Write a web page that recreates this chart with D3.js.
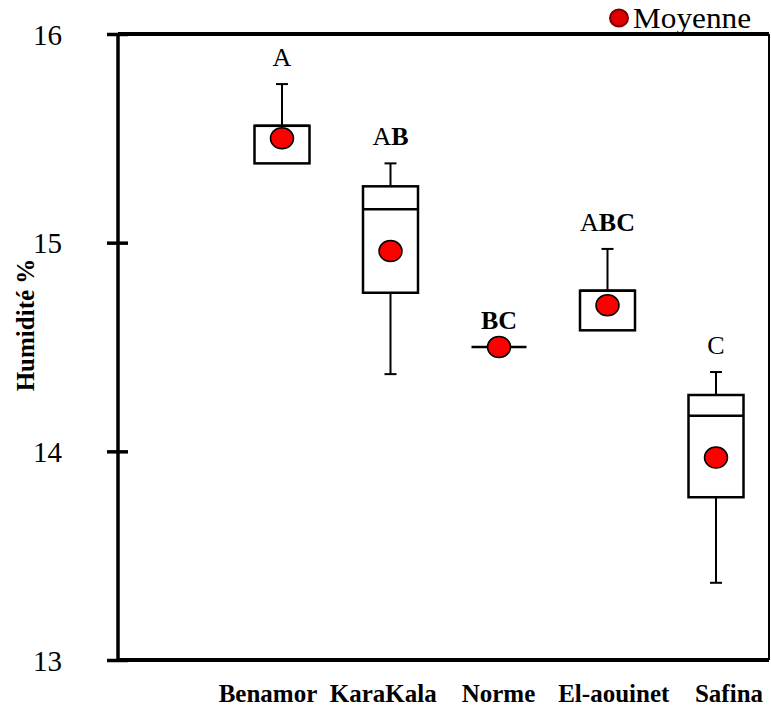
<!DOCTYPE html>
<html>
<head>
<meta charset="utf-8">
<script src="https://cdn.jsdelivr.net/npm/d3@7"></script>
<style>
  body { margin: 0; background: #fff; }
  svg text { font-family: 'Liberation Serif', 'Times New Roman', Times, serif !important; }
</style>
</head>
<body>
<div class="chart"></div>
<script>
// data
const sites = ["Benamor", "KaraKala", "Norme", "El-aouinet", "Safina"]
const mins = [15.38, 14.37, 14.5, 14.58, 13.37]
const q1s = [15.38, 14.76, 14.5, 14.58, 13.78]
const medians = [15.56, 15.16, 14.5, 14.77, 14.17]
const q3s = [15.56, 15.27, 14.5, 14.77, 14.27]
const maxs = [15.76, 15.38, 14.5, 14.97, 14.38]
const means = [15.5, 14.96, 14.5, 14.7, 13.97]
const groups = ["A", "AB", "BC", "ABC", "C"]
const yTicks = [13, 14, 15, 16]

const data = sites.map((s, i) => ({
  site: s, min: mins[i], q1: q1s[i], med: medians[i], q3: q3s[i],
  max: maxs[i], mean: means[i], grp: groups[i]
}))

const margin = ({top: 34, right: 2, bottom: 48, left: 118})
const W = 771, H = 708
const width = W - margin.left - margin.right,
  height = H - margin.top - margin.bottom

const svg = d3.select(".chart").append("svg")
  .attr("width", W)
  .attr("height", H)
  .attr("font-family", "'Liberation Serif', serif")

const g = svg.append("g")
  .attr("transform", "translate(" + margin.left + "," + margin.top + ")")

const x = d3.scalePoint()
  .domain(sites)
  .range([164, width - 53])

// category names sit a bit more spread out than the boxes
const xLab = d3.scalePoint()
  .domain(sites)
  .range([150, width - 40])

const y = d3.scaleLinear()
  .domain([13, 16])
  .range([height, 0])

// frame: top, right, bottom
g.append("line").attr("x1", 0).attr("x2", width).attr("y1", 0).attr("y2", 0)
  .attr("stroke", "black").attr("stroke-width", 4)
g.append("line").attr("x1", width).attr("x2", width).attr("y1", 0).attr("y2", height)
  .attr("stroke", "black").attr("stroke-width", 2)
g.append("line").attr("x1", 0).attr("x2", width).attr("y1", height).attr("y2", height)
  .attr("stroke", "black").attr("stroke-width", 4)

const yAxis = d3.axisLeft(y)
  .tickValues(yTicks)
  .tickSize(11)
  .tickPadding(45)
  .tickFormat(d3.format("d"))

const yAxisGroup = g.append("g")
  .attr("class", "axis y-axis")
  .call(yAxis)
  .attr("font-family", null)

yAxisGroup.select(".domain")
  .attr("stroke-width", 3.5)
  .attr("d", "M0," + y(16) + "V" + y(13))

yAxisGroup.selectAll(".tick line")
  .attr("stroke-width", 3.5)
  .clone()
  .attr("x2", 10)

yAxisGroup.selectAll(".tick text")
  .attr("font-size", 29)
  .attr("fill", "black")
  .attr("dy", "0.35em")

// y title
svg.append("text")
  .attr("transform", "translate(34,325) rotate(-90)")
  .attr("text-anchor", "middle")
  .attr("font-size", 25)
  .attr("font-weight", "bold")
  .text("Humidité %")

// x labels
g.selectAll(".xlab")
  .data(sites)
  .enter()
  .append("text")
  .attr("class", "xlab")
  .attr("x", d => xLab(d))
  .attr("y", height + 42)
  .attr("text-anchor", "middle")
  .attr("font-size", 25)
  .attr("font-weight", "bold")
  .text(d => d)

const boxW = 55, capW = 12

const box = g.append("g")
  .selectAll("g")
  .data(data)
  .enter()
  .append("g")

// whiskers
box.append("line")
  .attr("x1", d => x(d.site)).attr("x2", d => x(d.site))
  .attr("y1", d => y(d.q3)).attr("y2", d => y(d.max))
  .attr("stroke", "black").attr("stroke-width", 2)
box.append("line")
  .attr("x1", d => x(d.site)).attr("x2", d => x(d.site))
  .attr("y1", d => y(d.q1)).attr("y2", d => y(d.min))
  .attr("stroke", "black").attr("stroke-width", 2)

// caps
box.filter(d => d.max > d.q3).append("line")
  .attr("x1", d => x(d.site) - capW / 2).attr("x2", d => x(d.site) + capW / 2)
  .attr("y1", d => y(d.max)).attr("y2", d => y(d.max))
  .attr("stroke", "black").attr("stroke-width", 2)
box.filter(d => d.min < d.q1).append("line")
  .attr("x1", d => x(d.site) - capW / 2).attr("x2", d => x(d.site) + capW / 2)
  .attr("y1", d => y(d.min)).attr("y2", d => y(d.min))
  .attr("stroke", "black").attr("stroke-width", 2)

// boxes
box.append("rect")
  .attr("x", d => x(d.site) - boxW / 2)
  .attr("y", d => y(d.q3))
  .attr("width", boxW)
  .attr("height", d => y(d.q1) - y(d.q3))
  .attr("fill", "white")
  .attr("stroke", "black")
  .attr("stroke-width", 2.5)

// median
box.append("line")
  .attr("x1", d => x(d.site) - boxW / 2).attr("x2", d => x(d.site) + boxW / 2)
  .attr("y1", d => y(d.med)).attr("y2", d => y(d.med))
  .attr("stroke", "black").attr("stroke-width", 2.5)

// means
box.append("ellipse")
  .attr("cx", d => x(d.site))
  .attr("cy", d => y(d.mean))
  .attr("rx", 11.5)
  .attr("ry", 10.5)
  .attr("fill", "#ff0000")
  .attr("stroke", "black")
  .attr("stroke-width", 1.5)

// group letters
const lab = box.append("text")
  .attr("x", d => x(d.site))
  .attr("y", d => y(d.max) - 18)
  .attr("text-anchor", "middle")
  .attr("font-size", 26)

lab.selectAll("tspan")
  .data(d => d.grp.split("").map(c => ({c: c, only: d.grp.length == 1})))
  .enter()
  .append("tspan")
  .attr("font-weight", d => (d.c == "A" || d.only) ? "normal" : "bold")
  .text(d => d.c)

// legend
const leg = svg.append("g")
  .attr("transform", "translate(619,18)")
leg.append("ellipse")
  .attr("rx", 9).attr("ry", 8.5)
  .attr("fill", "#e00000")
  .attr("stroke", "#7a0000")
  .attr("stroke-width", 2)
leg.append("text")
  .attr("x", 14)
  .attr("y", 10)
  .attr("font-size", 29)
  .attr("textLength", 118)
  .attr("lengthAdjust", "spacingAndGlyphs")
  .text("Moyenne")
</script>
</body>
</html>
